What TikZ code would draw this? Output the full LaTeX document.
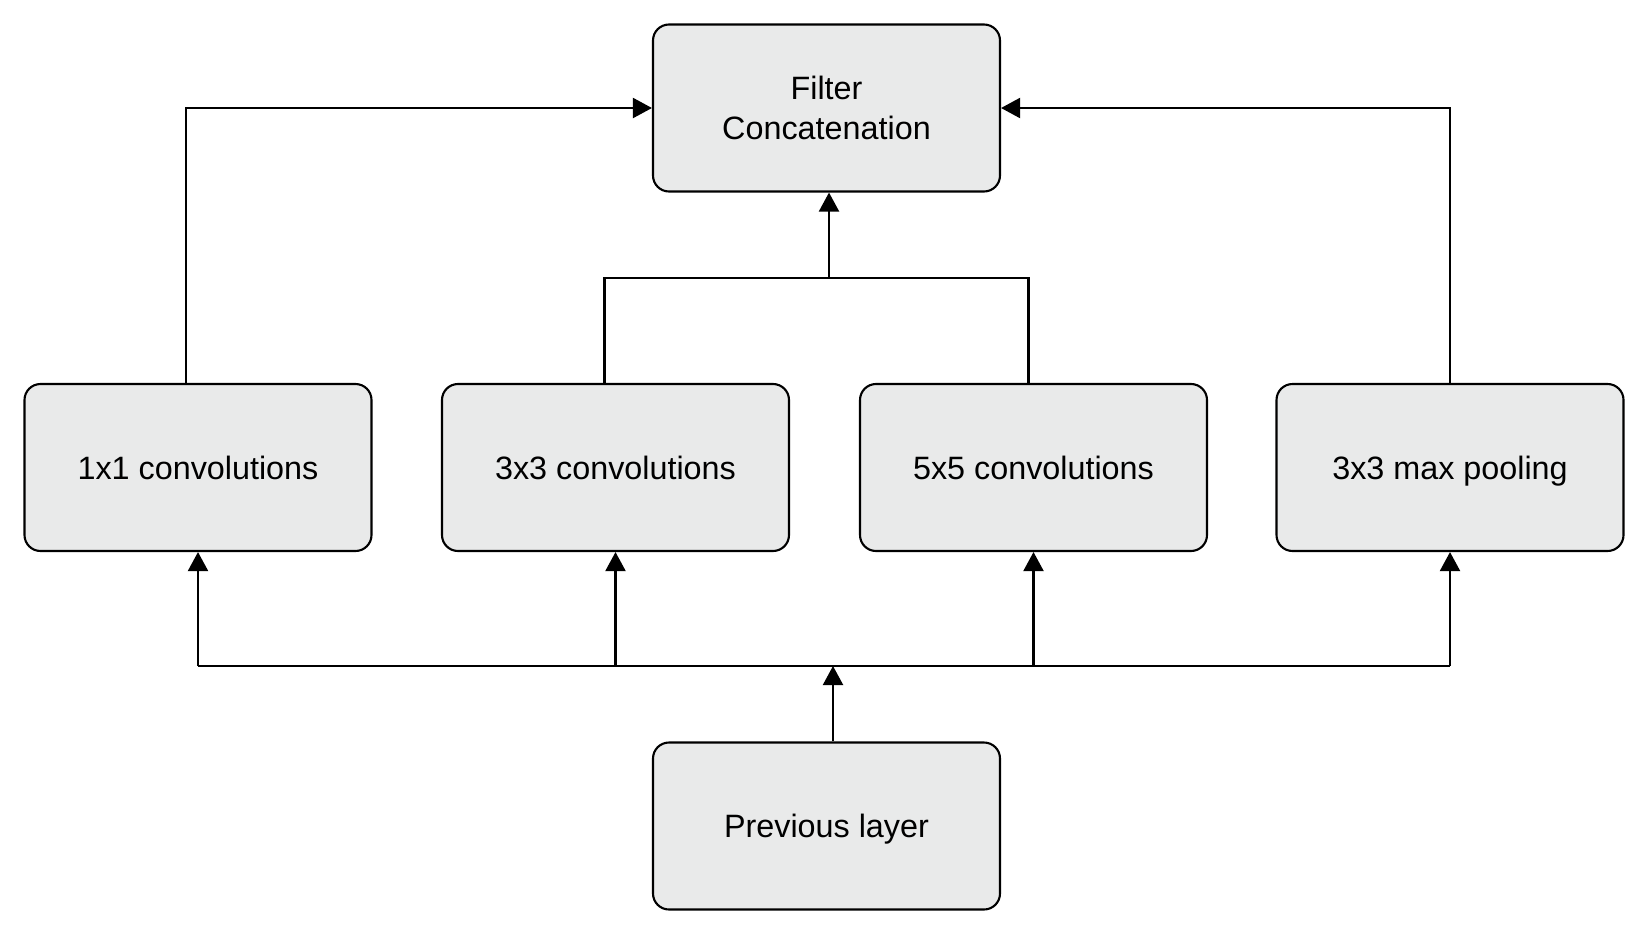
\documentclass[tikz,border=0pt]{standalone}
\usepackage{fontspec}
\setmainfont{Liberation Sans}
\usetikzlibrary{arrows.meta}
\definecolor{boxgray}{RGB}{233,234,234}
\tikzset{
    layerbox/.style={draw=black, fill=boxgray, rounded corners=0.16cm, line width=0.6pt,
        minimum width=3.47cm, minimum height=1.67cm, align=center, text depth=0pt,
        font=\fontsize{9.2}{11.4}\selectfont},
    feed/.style={line width=0.6pt, -{Triangle[length=0.19cm,width=0.2cm]}}
}
\begin{document}
\begin{tikzpicture}
    \useasboundingbox (0,0) rectangle (16.48,9.34);
    \node[layerbox] (concat) at (8.265,8.26) {Filter\\Concatenation};
    \node[layerbox] (conv1) at (1.98,4.665) {1x1 convolutions};
    \node[layerbox] (conv3) at (6.155,4.665) {3x3 convolutions};
    \node[layerbox] (conv5) at (10.335,4.665) {5x5 convolutions};
    \node[layerbox] (pool) at (14.50,4.665) {3x3 max pooling};
    \node[layerbox] (prev) at (8.265,1.08) {Previous layer};
    \coordinate (join) at (8.29,6.56);
    \coordinate (bus) at (8.33,2.68);
    \draw[feed] ([xshift=-0.12cm]conv1.north) |- (concat.west);
    \draw[feed] (pool.north) |- (concat.east);
    \draw[line width=0.6pt] ([xshift=-0.11cm]conv3.north) |- (join) -| ([xshift=-0.05cm]conv5.north);
    \draw[feed] (join) -- (join|-concat.south);
    \draw[feed] (prev.north-|bus) -- (bus);
    \draw[line width=0.6pt] (conv1.south|-bus) -- (pool.south|-bus);
    \foreach \n in {conv1,conv3,conv5,pool}
        \draw[feed] (\n.south|-bus) -- (\n.south);
\end{tikzpicture}
\end{document}
